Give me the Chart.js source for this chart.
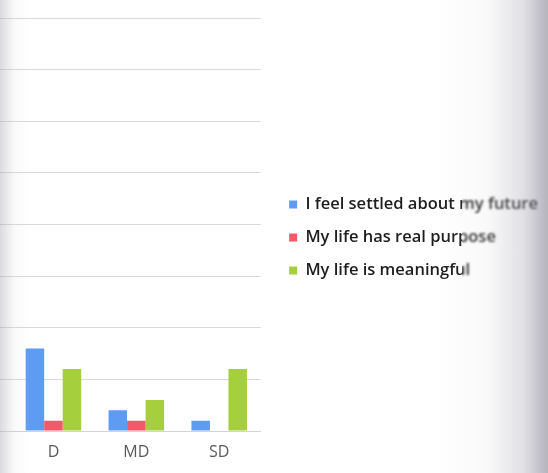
<!DOCTYPE html>
<html>
<head>
<meta charset="utf-8">
<script src="https://cdn.jsdelivr.net/npm/chart.js@4"></script>
<style>
  html, body { margin: 0; padding: 0; background: #ffffff; }
  #wrap { position: relative; width: 548px; height: 473px; }
  canvas { display: block; }
  /* softened, out-of-focus strip at the right edge of the sheet */
  #soft { position: absolute; top: 0; bottom: 0; left: 462px; right: 0; pointer-events: none;
    backdrop-filter: blur(1.3px); -webkit-backdrop-filter: blur(1.3px); }
  /* paper shading along the edges of the sheet */
  #shade { position: absolute; inset: 0; pointer-events: none;
    background:
      linear-gradient(to right, rgba(150,150,160,0.35) 0px, rgba(200,200,205,0.10) 14px, rgba(255,255,255,0) 30px),
      linear-gradient(to left, rgba(120,118,135,0.55) 0px, rgba(170,168,180,0.35) 25px, rgba(215,215,222,0.15) 60px, rgba(255,255,255,0) 110px);
  }
</style>
</head>
<body>
<div id="wrap">
  <canvas id="c" width="548" height="473"></canvas>
  <div id="soft"></div>
  <div id="shade"></div>
</div>
<script>
const categories = ['D', 'MD', 'SD'];
const seriesNames = ['I feel settled about my future', 'My life has real purpose', 'My life is meaningful'];
const settledFuture = [8, 2, 1];
const realPurpose = [1, 1, 0];
const meaningful = [6, 3, 6];
const seriesColors = ['#5e9cf4', '#f2596b', '#a6cf3e'];

new Chart(document.getElementById('c'), {
  type: 'bar',
  data: {
    labels: categories,
    datasets: [settledFuture, realPurpose, meaningful].map((values, i) => ({
      label: seriesNames[i],
      data: values,
      backgroundColor: seriesColors[i],
      borderWidth: 0,
      categoryPercentage: 0.67,
      barPercentage: 1.0
    }))
  },
  options: {
    responsive: false,
    animation: false,
    layout: { padding: { top: 18, bottom: 16, left: 0, right: 0 } },
    scales: {
      x: {
        grid: { display: false, drawTicks: false },
        border: { display: true, color: '#d4d4d4' },
        ticks: { color: '#5a5a5a', padding: 12, font: { family: 'Open Sans', size: 16 } },
        afterFit: (scale) => { scale.height = 26; }
      },
      y: {
        min: 0,
        max: 40,
        ticks: { display: false, stepSize: 5 },
        grid: { color: '#dadada', lineWidth: 1, drawTicks: true, tickLength: 12, tickColor: '#dadada' },
        border: { display: false }
      },
      gap: {
        position: 'right',
        display: true,
        min: 0,
        max: 40,
        ticks: { display: false },
        grid: { display: false, drawTicks: false },
        border: { display: false },
        afterFit: (scale) => { scale.width = 12; }
      }
    },
    plugins: {
      legend: {
        position: 'right',
        align: 'center',
        maxWidth: 400,
        labels: {
          boxWidth: 8,
          boxHeight: 8,
          padding: 16.5,
          color: '#1e1e1e',
          font: { family: 'Open Sans', size: 16.5, weight: '600' }
        }
      },
      tooltip: { enabled: false }
    }
  }
});
</script>
</body>
</html>
